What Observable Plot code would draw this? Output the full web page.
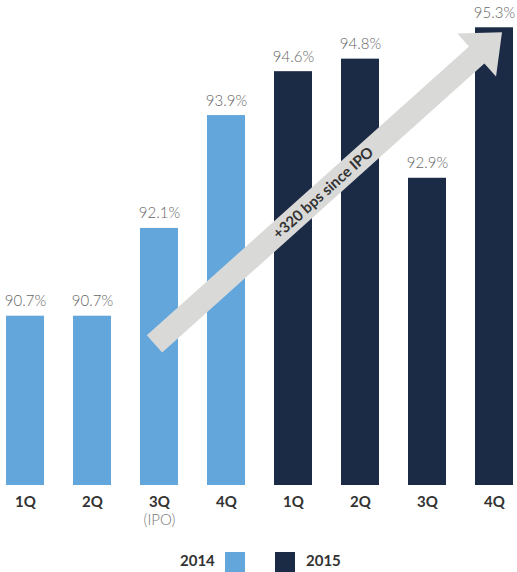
<!DOCTYPE html>
<html>
<head>
<meta charset="utf-8">
<script src="https://cdn.jsdelivr.net/npm/d3@7"></script>
<script src="https://cdn.jsdelivr.net/npm/@observablehq/plot@0.6"></script>
<style>
  html, body { margin: 0; padding: 0; background: #fff; }
  body { font-family: Lato, "Open Sans", sans-serif; width: 517px; }
  #legend { position: relative; height: 42px; }
  #legend .t { position: absolute; top: 23px; font-size: 15px; font-weight: 700; color: #333; line-height: 1; }
  #legend .sq { position: absolute; top: 22px; width: 20px; height: 20px; }
</style>
</head>
<body>
<div id="chart"></div>
<div id="legend"></div>
<script>
// ---- data ----
const quarters = ["1Q", "2Q", "3Q", "4Q", "1Q", "2Q", "3Q", "4Q"];
const years = [2014, 2014, 2014, 2014, 2015, 2015, 2015, 2015];
const values = [90.7, 90.7, 92.1, 93.9, 94.6, 94.8, 92.9, 95.3];
const notes = ["", "", "(IPO)", "", "", "", "", ""];
const legendYears = [2014, 2015];
const yearColors = {2014: "#62A6DB", 2015: "#1B2A45"};
const arrowFrom = {key: "2014 3Q", value: 90.25};
const arrowTo = {key: "2015 4Q", value: 95.22};
const arrowLabel = "+320 bps since IPO";
const baseValue = 88;

const data = quarters.map((q, i) => ({
  key: `${years[i]} ${q}`, quarter: q, year: years[i], value: values[i], note: notes[i]
}));

const W = 517, H = 530;

function arrowMark(index, scales) {
  const x = scales.x, y = scales.y;
  const bw = x.bandwidth ? x.bandwidth() : 0;
  const x1 = x(arrowFrom.key) + bw / 2 - 4.5, y1 = y(arrowFrom.value);
  const x2 = x(arrowTo.key) + bw / 2 + 8, y2 = y(arrowTo.value);
  const dx = x2 - x1, dy = y2 - y1, len = Math.hypot(dx, dy);
  const ux = dx / len, uy = dy / len;       // along
  const nx = -uy, ny = ux;                  // normal
  const shaftW = 23, headW = 58, headL = 34;
  const bx = x2 - ux * headL, by = y2 - uy * headL;
  const pts = [
    [x1 + nx * shaftW / 2, y1 + ny * shaftW / 2],
    [bx + nx * shaftW / 2, by + ny * shaftW / 2],
    [bx + nx * headW / 2, by + ny * headW / 2],
    [x2, y2],
    [bx - nx * headW / 2, by - ny * headW / 2],
    [bx - nx * shaftW / 2, by - ny * shaftW / 2],
    [x1 - nx * shaftW / 2, y1 - ny * shaftW / 2]
  ];
  const g = d3.create("svg:g");
  g.append("path")
    .attr("d", "M" + pts.map(p => p.join(",")).join("L") + "Z")
    .attr("fill", "#D9D9D8");
  const mx = (x1 + x2) / 2 - ux * 7, my = (y1 + y2) / 2 - uy * 7;
  const ang = Math.atan2(dy, dx) * 180 / Math.PI;
  g.append("text")
    .attr("transform", `translate(${mx},${my}) rotate(${ang})`)
    .attr("text-anchor", "middle")
    .attr("dy", "0.35em")
    .attr("font-size", 15)
    .attr("font-weight", 700)
    .attr("fill", "#333")
    .text(arrowLabel);
  return g.node();
}

const chart = Plot.plot({
  width: W,
  height: H,
  marginLeft: 5,
  marginRight: 3,
  marginTop: 0,
  marginBottom: 45,
  style: {fontFamily: "Lato, 'Open Sans', sans-serif", background: "#fff"},
  x: {domain: data.map(d => d.key), paddingInner: 0.43, paddingOuter: 0},
  y: {domain: [88, 96], range: [485, 485 - 8 * 62.7], axis: null},
  marks: [
    Plot.barY(data, {x: "key", y1: baseValue, y2: "value", fill: d => yearColors[d.year]}),
    Plot.text(data, {
      x: "key", y: "value", text: d => d.value.toFixed(1) + "%",
      lineAnchor: "bottom", dy: -10, fontSize: 15, fontWeight: 300, fill: "#666"
    }),
    Plot.axisX({
      tickSize: 0, tickPadding: 11, tickFormat: k => k.split(" ")[1],
      fontSize: 15, fontWeight: 700, fill: "#333", label: null
    }),
    Plot.text(data.filter(d => d.note), {
      x: "key", text: "note", frameAnchor: "bottom", dy: 29, lineAnchor: "top",
      fontSize: 15, fontWeight: 300, fill: "#777"
    }),
    arrowMark
  ]
});
document.getElementById("chart").appendChild(chart);

// legend
const legend = document.getElementById("legend");
const layout = [
  {year: legendYears[0], textLeft: 180, sqLeft: 225},
  {year: legendYears[1], textLeft: 306, sqLeft: 275}
];
layout.forEach(l => {
  const t = document.createElement("span");
  t.className = "t"; t.textContent = String(l.year); t.style.left = l.textLeft + "px";
  legend.appendChild(t);
  const s = document.createElement("span");
  s.className = "sq"; s.style.left = l.sqLeft + "px"; s.style.background = yearColors[l.year];
  legend.appendChild(s);
});
</script>
</body>
</html>
